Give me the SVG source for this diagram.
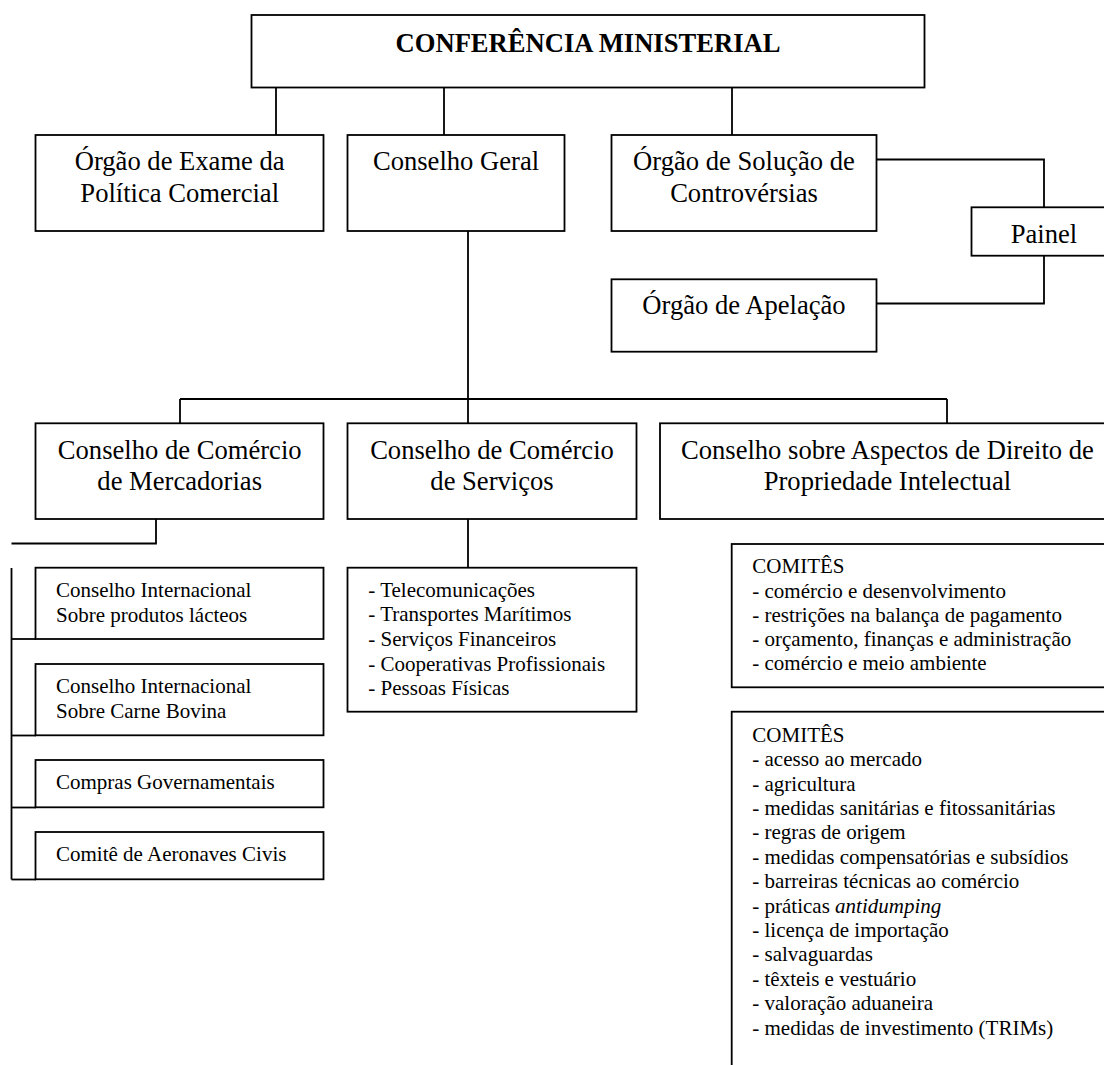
<svg xmlns="http://www.w3.org/2000/svg" width="1104" height="1065" viewBox="0 0 1104 1065">
<style>
  .box { fill: #fff; stroke: #000; stroke-width: 1.8; }
  .ln { fill: none; stroke: #000; stroke-width: 1.8; }
  text { font-family: "Liberation Serif", "Times New Roman", serif; fill: #000; }
  .big { font-size: 26.6px; }
  .ttl { font-size: 26.6px; font-weight: bold; }
  .sm { font-size: 21px; }
  .c { text-anchor: middle; }
</style>
<rect width="1104" height="1065" fill="#fff"/>

<g id="connectors">
  <line class="ln" x1="276" y1="87" x2="276" y2="135"/>
  <line class="ln" x1="444" y1="87" x2="444" y2="135"/>
  <line class="ln" x1="732" y1="87" x2="732" y2="135"/>
  <polyline class="ln" points="876,159.5 1044,159.5 1044,207"/>
  <polyline class="ln" points="1044,256 1044,303.5 876,303.5"/>
  <line class="ln" x1="468" y1="231" x2="468" y2="423"/>
  <line class="ln" x1="180" y1="399" x2="947" y2="399"/>
  <line class="ln" x1="180" y1="399" x2="180" y2="423"/>
  <line class="ln" x1="947" y1="399" x2="947" y2="423"/>
  <polyline class="ln" points="156,519 156,543.5 11.5,543.5"/>
  <line class="ln" x1="468" y1="519" x2="468" y2="568"/>
  <line class="ln" x1="11.5" y1="568" x2="11.5" y2="879.5"/>
  <line class="ln" x1="11.5" y1="639" x2="36" y2="639"/>
  <line class="ln" x1="11.5" y1="735.5" x2="36" y2="735.5"/>
  <line class="ln" x1="11.5" y1="807.5" x2="36" y2="807.5"/>
  <line class="ln" x1="11.5" y1="879.5" x2="36" y2="879.5"/>
</g>

<g id="conferencia">
  <rect class="box" x="251.5" y="15" width="673" height="72.5"/>
  <text class="ttl c" x="588" y="51.7">CONFERÊNCIA MINISTERIAL</text>
</g>

<g id="orgao-exame">
  <rect class="box" x="35.5" y="135" width="288" height="96"/>
  <text class="big c" x="179.7" y="170.3">Órgão de Exame da</text>
  <text class="big c" x="179.7" y="201.7">Política Comercial</text>
</g>

<g id="conselho-geral">
  <rect class="box" x="347.5" y="135" width="217" height="96"/>
  <text class="big c" x="456" y="170.3">Conselho Geral</text>
</g>

<g id="orgao-solucao">
  <rect class="box" x="611.5" y="135" width="265" height="96"/>
  <text class="big c" x="744" y="170.3">Órgão de Solução de</text>
  <text class="big c" x="744" y="201.7">Controvérsias</text>
</g>

<g id="painel">
  <rect class="box" x="971.5" y="207.3" width="145" height="48.4"/>
  <text class="big c" x="1044" y="243.4">Painel</text>
</g>

<g id="orgao-apelacao">
  <rect class="box" x="611.5" y="279.3" width="265" height="72.4"/>
  <text class="big c" x="744" y="314.3">Órgão de Apelação</text>
</g>

<g id="conselho-mercadorias">
  <rect class="box" x="35.5" y="423.3" width="288" height="95.7"/>
  <text class="big c" x="179.7" y="459.3">Conselho de Comércio</text>
  <text class="big c" x="179.7" y="490">de Mercadorias</text>
</g>

<g id="conselho-servicos">
  <rect class="box" x="347.5" y="423.3" width="289" height="95.7"/>
  <text class="big c" x="492" y="459.3">Conselho de Comércio</text>
  <text class="big c" x="492" y="490">de Serviços</text>
</g>

<g id="conselho-propriedade">
  <rect class="box" x="660" y="423.3" width="455" height="95.7"/>
  <text class="big c" x="887.4" y="459.3">Conselho sobre Aspectos de Direito de</text>
  <text class="big c" x="887.4" y="490">Propriedade Intelectual</text>
</g>

<g id="lacteos">
  <rect class="box" x="35.5" y="567.7" width="288" height="71.3"/>
  <text class="sm" x="56" y="596.7">Conselho Internacional</text>
  <text class="sm" x="56" y="622">Sobre produtos lácteos</text>
</g>

<g id="carne-bovina">
  <rect class="box" x="35.5" y="664" width="288" height="71.3"/>
  <text class="sm" x="56" y="693.3">Conselho Internacional</text>
  <text class="sm" x="56" y="718.3">Sobre Carne Bovina</text>
</g>

<g id="compras">
  <rect class="box" x="35.5" y="760" width="288" height="47.3"/>
  <text class="sm" x="56" y="788.7">Compras Governamentais</text>
</g>

<g id="aeronaves">
  <rect class="box" x="35.5" y="832" width="288" height="47.3"/>
  <text class="sm" x="56" y="860.7">Comitê de Aeronaves Civis</text>
</g>

<g id="servicos-lista">
  <rect class="box" x="347.5" y="567.7" width="289" height="144"/>
  <text class="sm" x="368.3" y="596.7">- Telecomunicações</text>
  <text class="sm" x="368.3" y="621.3">- Transportes Marítimos</text>
  <text class="sm" x="368.3" y="645.9">- Serviços Financeiros</text>
  <text class="sm" x="368.3" y="670.5">- Cooperativas Profissionais</text>
  <text class="sm" x="368.3" y="695.1">- Pessoas Físicas</text>
</g>

<g id="comites-1">
  <rect class="box" x="731.7" y="544" width="385" height="143.3"/>
  <text class="sm" x="752.3" y="573.3">COMITÊS</text>
  <text class="sm" x="752.3" y="597.5">- comércio e desenvolvimento</text>
  <text class="sm" x="752.3" y="621.7">- restrições na balança de pagamento</text>
  <text class="sm" x="752.3" y="645.9">- orçamento, finanças e administração</text>
  <text class="sm" x="752.3" y="670.1">- comércio e meio ambiente</text>
</g>

<g id="comites-2">
  <rect class="box" x="731.7" y="711.7" width="385" height="370"/>
  <text class="sm" x="752.3" y="741.7">COMITÊS</text>
  <text class="sm" x="752.3" y="766.1">- acesso ao mercado</text>
  <text class="sm" x="752.3" y="790.5">- agricultura</text>
  <text class="sm" x="752.3" y="814.9">- medidas sanitárias e fitossanitárias</text>
  <text class="sm" x="752.3" y="839.3">- regras de origem</text>
  <text class="sm" x="752.3" y="863.7">- medidas compensatórias e subsídios</text>
  <text class="sm" x="752.3" y="888.1">- barreiras técnicas ao comércio</text>
  <text class="sm" x="752.3" y="912.5">- práticas <tspan font-style="italic">antidumping</tspan></text>
  <text class="sm" x="752.3" y="936.9">- licença de importação</text>
  <text class="sm" x="752.3" y="961.3">- salvaguardas</text>
  <text class="sm" x="752.3" y="985.7">- têxteis e vestuário</text>
  <text class="sm" x="752.3" y="1010.1">- valoração aduaneira</text>
  <text class="sm" x="752.3" y="1034.5">- medidas de investimento (TRIMs)</text>
</g>
</svg>
